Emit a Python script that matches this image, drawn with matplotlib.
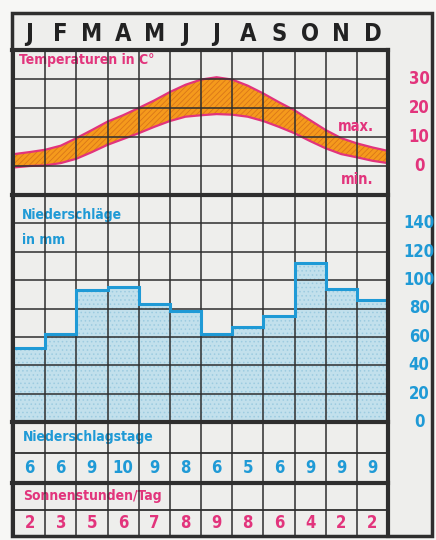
import numpy as np
import matplotlib
matplotlib.use("Agg")
import matplotlib.pyplot as plt
from matplotlib.patches import Rectangle

plt.rcParams['font.family'] = ['DejaVu Sans']
plt.rcParams['font.stretch'] = 'condensed'
plt.rcParams['hatch.linewidth'] = 0.6

months = ["J", "F", "M", "A", "M", "J", "J", "A", "S", "O", "N", "D"]
# temperatures read every half month (Jan 1, mid Jan, Feb 1, ... Dec 31)
temp_max = [4.1, 4.8, 5.6, 7.0, 9.6, 12.4, 15.3, 17.5, 20.0, 22.6, 25.5, 28.0, 29.8,
            30.6, 29.8, 27.7, 25.0, 22.0, 19.2, 15.8, 12.4, 9.6, 7.8, 6.4, 5.2]
temp_min = [-0.5, 0.0, 0.2, 1.0, 2.5, 4.8, 7.3, 9.3, 11.3, 13.5, 15.5, 17.0, 17.5,
            17.9, 17.7, 17.0, 15.5, 13.5, 11.3, 8.6, 6.1, 4.1, 3.0, 1.8, 1.0]
precip = [52, 62, 93, 95, 83, 78, 62, 67, 75, 112, 94, 86]
rain_days = [6, 6, 9, 10, 9, 8, 6, 5, 6, 9, 9, 9]
sun_hours = [2, 3, 5, 6, 7, 8, 9, 8, 6, 4, 2, 2]
temp_ticks = [0, 10, 20, 30]
precip_ticks = [0, 20, 40, 60, 80, 100, 120, 140]

PINK = "#e2347c"
BLUE = "#1f9ad6"
ORANGE = "#f59a1c"
PAPER = "#eeeeec"
LINE = "#2e2e2e"

W, H = 436, 540
fig = plt.figure(figsize=(W / 100, H / 100), dpi=100)
fig.patch.set_facecolor("#f7f7f5")


def add_ax(x0, y0, x1, y1):
    ax = fig.add_axes([x0 / W, 1 - y1 / H, (x1 - x0) / W, (y1 - y0) / H])
    ax.set_xlim(0, 12)
    ax.set_xticks([])
    ax.set_yticks([])
    for s in ax.spines.values():
        s.set_visible(False)
    ax.patch.set_alpha(0)
    return ax


# background frame
bg = fig.add_axes([0, 0, 1, 1])
bg.set_xlim(0, W)
bg.set_ylim(H, 0)
bg.axis("off")
bg.add_patch(Rectangle((12, 13), 420, 523, facecolor=PAPER, edgecolor=LINE, lw=2.5))

XL, XR = 14, 388
month_ax = add_ax(XL, 13, XR, 50)
temp_ax = add_ax(XL, 50, XR, 195)
prec_ax = add_ax(XL, 195, XR, 422)
days_ax = add_ax(XL, 422, XR, 483)
sun_ax = add_ax(XL, 483, XR, 536)

# month letters
month_ax.set_ylim(0, 1)
for i, m in enumerate(months):
    month_ax.text(i + 0.5, 0.42, m, ha="center", va="center", fontsize=17,
                  fontweight="bold", color="#222222")

# temperature panel
temp_ax.set_ylim(-10, 40)
xt = np.arange(len(temp_max)) / 2
temp_ax.fill_between(xt, temp_min, temp_max, facecolor=ORANGE, edgecolor="#d9761a",
                     hatch="//////", linewidth=0, zorder=2)
temp_ax.plot(xt, temp_max, color=PINK, lw=1.6, zorder=3)
temp_ax.plot(xt, temp_min, color=PINK, lw=1.6, zorder=3)
for v in temp_ticks:
    temp_ax.axhline(v, color=LINE, lw=1.1, zorder=4)
    temp_ax.text(13.0, v, str(v), ha="center", va="center", color=PINK,
                 fontsize=12, fontweight="bold", clip_on=False)
temp_ax.text(0.15, 36.5, "Temperaturen in C°", color=PINK, fontsize=10,
             fontweight="bold", va="center", ha="left")
temp_ax.text(11.55, 13.5, "max.", color=PINK, fontsize=10.5, fontweight="bold",
             ha="right", va="center", zorder=5)
temp_ax.text(11.55, -4.5, "min.", color=PINK, fontsize=10.5, fontweight="bold",
             ha="right", va="center", zorder=5)

# precipitation panel
prec_ax.set_ylim(0, 160)
edges = np.arange(13)
prec_ax.stairs(precip, edges, fill=True, facecolor="#c2e0ec", edgecolor="#9ccbe0",
               hatch="....", linewidth=0, zorder=2)
prec_ax.stairs(precip, edges, color=BLUE, lw=2.2, baseline=None, zorder=5)
for v in precip_ticks:
    prec_ax.axhline(v, color=LINE, lw=1.1, zorder=4)
    prec_ax.text(13.0, v, str(v), ha="center", va="center", color=BLUE,
                 fontsize=12, fontweight="bold", clip_on=False)
prec_ax.text(0.25, 146, "Niederschläge", color=BLUE, fontsize=10,
             fontweight="bold", va="center", ha="left")
prec_ax.text(0.25, 128, "in mm", color=BLUE, fontsize=10,
             fontweight="bold", va="center", ha="left")

# table rows
days_ax.set_ylim(0, 2)
days_ax.axhline(1, color=LINE, lw=1.3)
days_ax.text(0.3, 1.5, "Niederschlagstage", color=BLUE, fontsize=10,
             fontweight="bold", va="center", ha="left", zorder=1)
for i, d in enumerate(rain_days):
    days_ax.text(i + 0.5, 0.5, str(d), color=BLUE, fontsize=12, fontweight="bold",
                 ha="center", va="center")

sun_ax.set_ylim(0, 2)
sun_ax.axhline(0.98, color=LINE, lw=1.3)
sun_ax.text(0.3, 1.5, "Sonnenstunden/Tag", color=PINK, fontsize=10,
            fontweight="bold", va="center", ha="left", zorder=1)
for i, s in enumerate(sun_hours):
    sun_ax.text(i + 0.5, 0.5, str(s), color=PINK, fontsize=12, fontweight="bold",
                ha="center", va="center")

# vertical month grid through all panels
for ax in (temp_ax, prec_ax, days_ax, sun_ax):
    for k in range(1, 12):
        ax.axvline(k, color=LINE, lw=1.1, zorder=4)

# thick separators on top
over = fig.add_axes([0, 0, 1, 1])
over.set_xlim(0, W)
over.set_ylim(H, 0)
over.axis("off")
over.patch.set_alpha(0)
for y in (50, 195, 422, 483):
    over.plot([12, XR], [y, y], color=LINE, lw=3.0)
over.plot([XR, XR], [50, 536], color=LINE, lw=3.0)
over.plot([XL, XL], [50, 536], color=LINE, lw=1.5)

fig.savefig("out.png", dpi=100, facecolor=fig.get_facecolor())
